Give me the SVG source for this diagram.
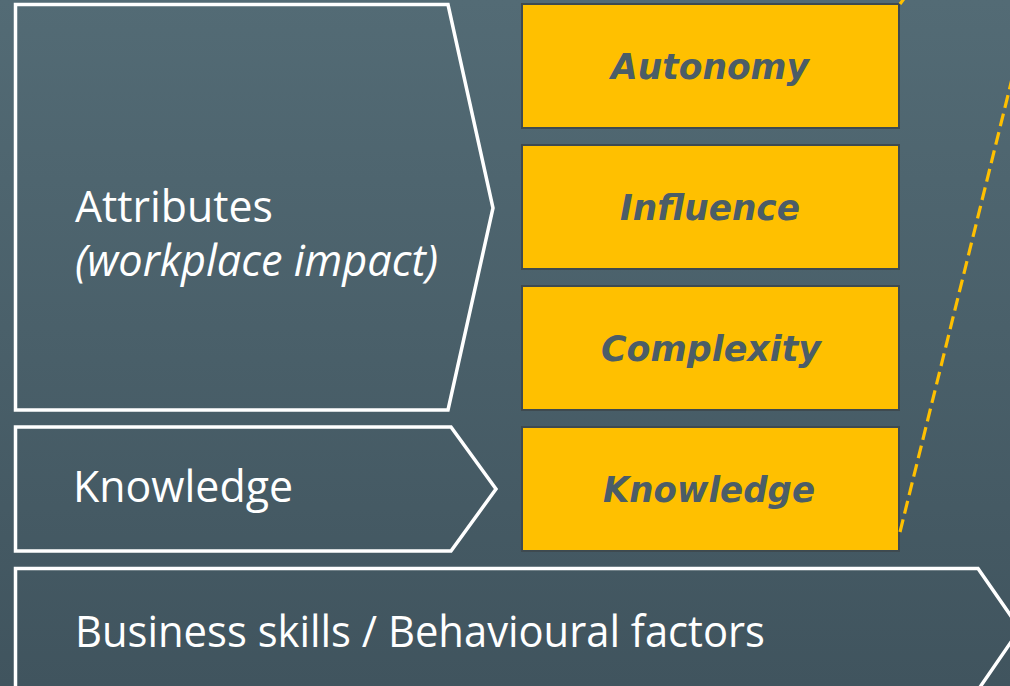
<svg xmlns="http://www.w3.org/2000/svg" width="1010" height="686" viewBox="0 0 1010 686">
  <defs>
    <linearGradient id="bg" x1="0" y1="0" x2="0" y2="1">
      <stop offset="0" stop-color="#536b75"/>
      <stop offset="1" stop-color="#40545e"/>
    </linearGradient>
    <style>
      .chev { fill: none; stroke: #ffffff; stroke-width: 3.5; stroke-linejoin: miter; }
      .box { fill: #ffc000; stroke: #3e4a50; stroke-width: 2; }
      .label { font-family: "Open Sans", "Noto Sans", sans-serif; font-size: 43px; fill: #ffffff; }
      .level { font-family: "DejaVu Sans", "Liberation Sans", sans-serif; font-size: 36px; font-weight: bold; font-style: italic; fill: #4b5d67; text-anchor: middle; }
      .dash { fill: none; stroke: #ffc000; stroke-width: 3.2; stroke-dasharray: 13 6; }
    </style>
  </defs>

  <rect x="0" y="0" width="1010" height="686" fill="url(#bg)"/>

  <!-- left-hand category chevrons -->
  <g id="attributes">
    <polygon class="chev" points="15.5,4.5 448,4.5 493,208 448,410 15.5,410"/>
    <text class="label" x="75" y="222" textLength="198" lengthAdjust="spacingAndGlyphs">Attributes</text>
    <text class="label" x="75" y="276" font-style="italic" textLength="363" lengthAdjust="spacingAndGlyphs">(workplace impact)</text>
  </g>

  <g id="knowledge-category">
    <polygon class="chev" points="15.5,427 451,427 496,489 451,551 15.5,551"/>
    <text class="label" x="73" y="502" textLength="220" lengthAdjust="spacingAndGlyphs">Knowledge</text>
  </g>

  <g id="business-skills">
    <polygon class="chev" points="15.5,568.5 978,568.5 1020,629 978,690 15.5,690"/>
    <text class="label" x="75" y="647" textLength="690" lengthAdjust="spacingAndGlyphs">Business skills / Behavioural factors</text>
  </g>

  <!-- responsibility level boxes -->
  <g id="autonomy">
    <rect class="box" x="522" y="4" width="377" height="124"/>
    <text class="level" x="710" y="79" textLength="198" lengthAdjust="spacingAndGlyphs">Autonomy</text>
  </g>
  <g id="influence">
    <rect class="box" x="522" y="145" width="377" height="124"/>
    <text class="level" x="710" y="220" textLength="180" lengthAdjust="spacingAndGlyphs">Influence</text>
  </g>
  <g id="complexity">
    <rect class="box" x="522" y="286" width="377" height="124"/>
    <text class="level" x="711" y="361" textLength="220" lengthAdjust="spacingAndGlyphs">Complexity</text>
  </g>
  <g id="knowledge">
    <rect class="box" x="522" y="427" width="377" height="124"/>
    <text class="level" x="709" y="502" textLength="212" lengthAdjust="spacingAndGlyphs">Knowledge</text>
  </g>

  <!-- dashed guide lines leading off to the right -->
  <g id="connectors">
    <line class="dash" x1="900" y1="532" x2="1033" y2="-6"/>
    <line class="dash" x1="900" y1="4" x2="912" y2="-12"/>
  </g>
</svg>
